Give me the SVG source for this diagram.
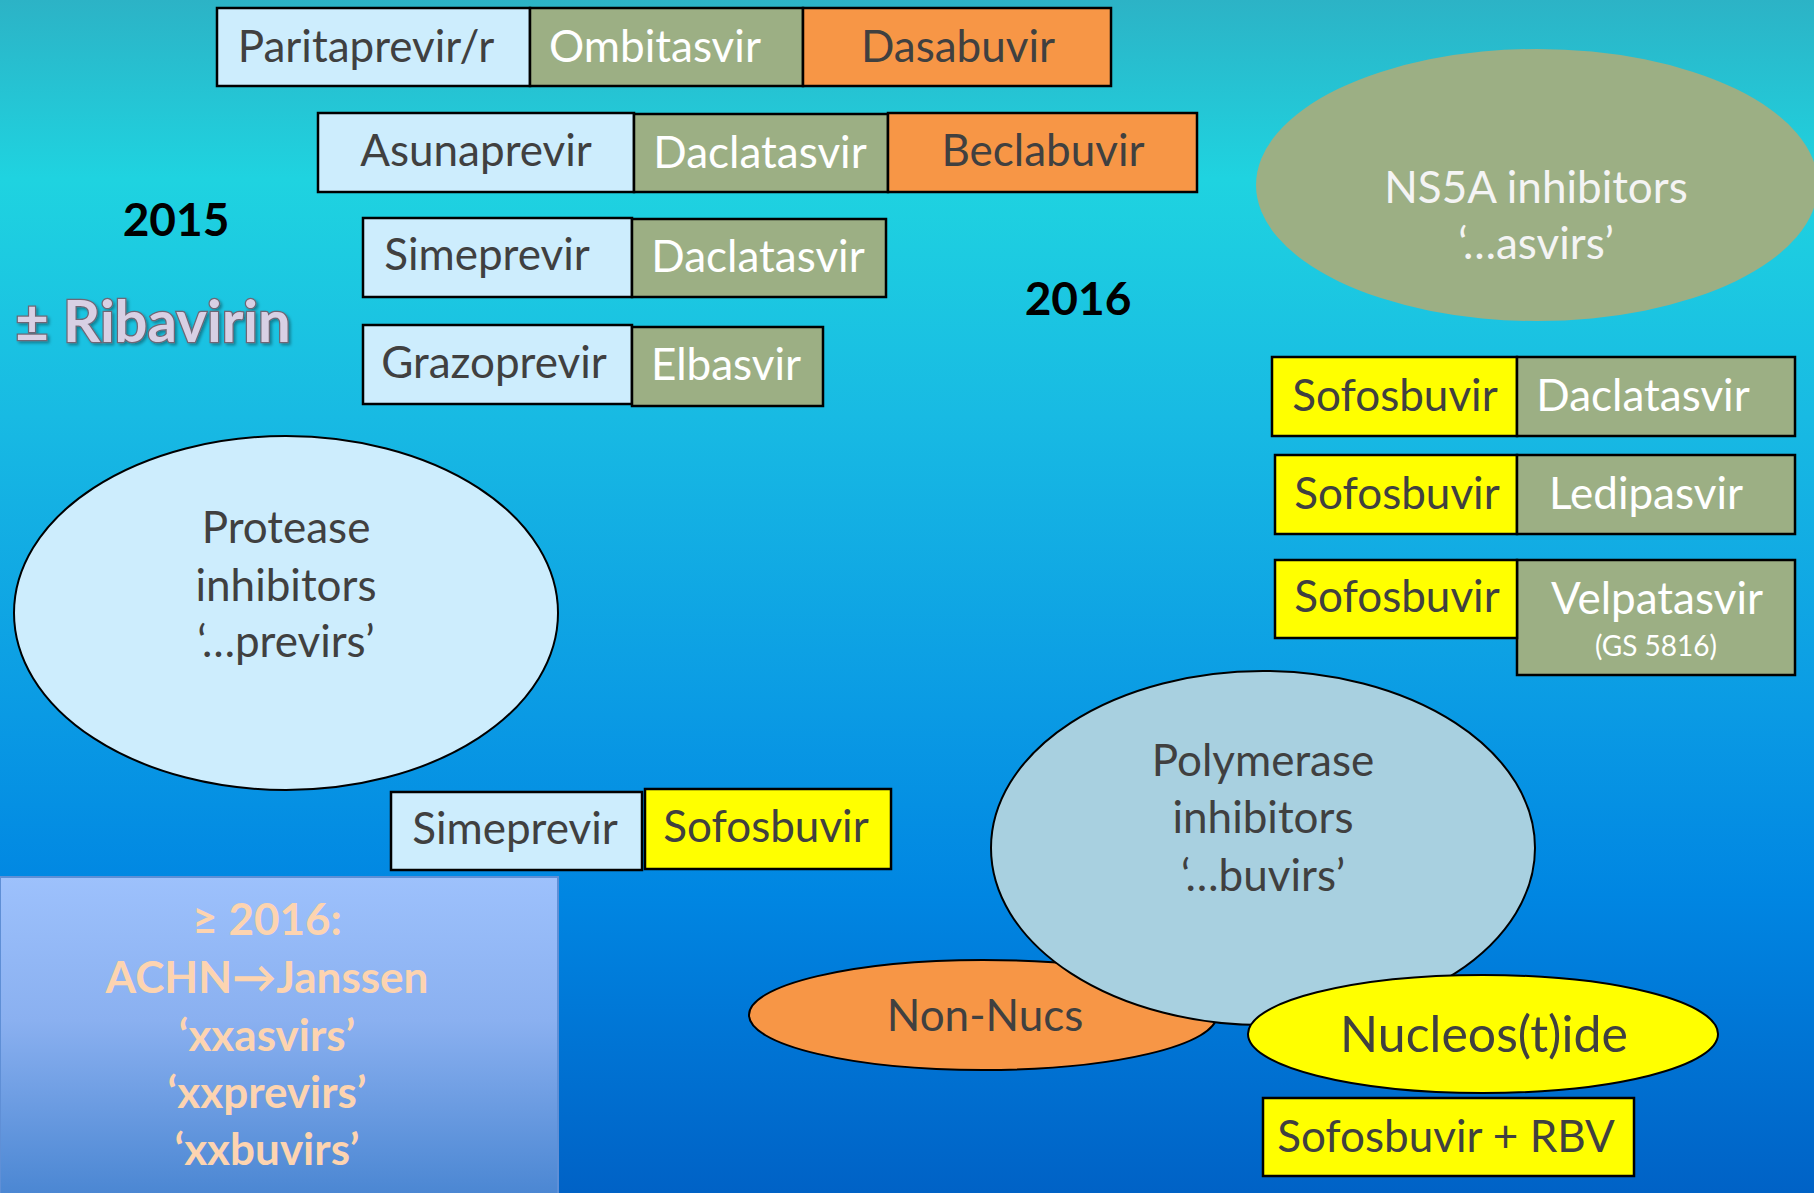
<svg xmlns="http://www.w3.org/2000/svg" width="1814" height="1193" viewBox="0 0 1814 1193">
<defs>
<linearGradient id="bg" x1="0" y1="0" x2="0" y2="1">
<stop offset="0" stop-color="#2cb3c6"/>
<stop offset="0.15" stop-color="#1fd3e0"/>
<stop offset="0.35" stop-color="#18bae3"/>
<stop offset="0.6" stop-color="#0a9ae4"/>
<stop offset="0.75" stop-color="#0086e2"/>
<stop offset="1" stop-color="#0062c6"/>
</linearGradient>
<linearGradient id="note" x1="0" y1="0" x2="0" y2="1">
<stop offset="0" stop-color="#9dc1fc"/>
<stop offset="0.45" stop-color="#8ab0f0"/>
<stop offset="1" stop-color="#4a86d2"/>
</linearGradient>
<filter id="sh" x="-5%" y="-10%" width="115%" height="130%">
<feDropShadow dx="2" dy="2" stdDeviation="1.5" flood-color="#000" flood-opacity="0.35"/>
</filter>
</defs>
<style>
text{font-family:Lato,"Liberation Sans",sans-serif;font-size:44px;text-anchor:middle}
.b{stroke:#000;stroke-width:2.5}
.pi{fill:#cdedfd}
.ns{fill:#9caf84}
.or{fill:#f79646}
.ye{fill:#ffff00}
.dk{fill:#404040}
.wh{fill:#ffffff}
.yr{font-weight:bold;fill:#000;font-size:46px}
</style>
<rect width="1814" height="1193" fill="url(#bg)"/>

<g id="year2015"><text class="yr" x="176" y="236">2015</text></g>
<g id="year2016"><text class="yr" x="1078" y="315">2016</text></g>
<g id="ribavirin"><text x="153" y="342" style="font-size:58px;font-weight:bold;fill:#d8d0e4;stroke:#6e6674;stroke-width:2.5;paint-order:stroke" filter="url(#sh)">± Ribavirin</text></g>

<g id="row1">
<rect class="b pi" x="217" y="8" width="313" height="78"/>
<rect class="b ns" x="530" y="8" width="273" height="78"/>
<rect class="b or" x="803" y="8" width="308" height="78"/>
<text class="dk" x="366" y="62">Paritaprevir/r</text>
<text class="wh" x="655" y="62">Ombitasvir</text>
<text class="dk" x="958" y="62">Dasabuvir</text>
</g>
<g id="row2">
<rect class="b pi" x="318" y="113" width="316" height="79"/>
<rect class="b ns" x="634" y="114" width="254" height="78"/>
<rect class="b or" x="888" y="113" width="309" height="79"/>
<text class="dk" x="476" y="166">Asunaprevir</text>
<text class="wh" x="760" y="168">Daclatasvir</text>
<text class="dk" x="1043" y="166">Beclabuvir</text>
</g>
<g id="row3">
<rect class="b pi" x="363" y="218" width="269" height="79"/>
<rect class="b ns" x="632" y="219" width="254" height="78"/>
<text class="dk" x="487" y="270">Simeprevir</text>
<text class="wh" x="758" y="272">Daclatasvir</text>
</g>
<g id="row4">
<rect class="b pi" x="363" y="325" width="269" height="79"/>
<rect class="b ns" x="632" y="327" width="191" height="79"/>
<text class="dk" x="494" y="378">Grazoprevir</text>
<text class="wh" x="726" y="380">Elbasvir</text>
</g>

<g id="ns5a">
<ellipse cx="1537" cy="185" rx="281" ry="136" fill="#9caf84"/>
<text class="wh" x="1536" y="203" style="fill:#f4f4f4">NS5A inhibitors</text>
<text class="wh" x="1536" y="259" style="fill:#f4f4f4">‘…asvirs’</text>
</g>

<g id="sof-dac">
<rect class="b ye" x="1272" y="357" width="245" height="79"/>
<rect class="b ns" x="1517" y="357" width="278" height="79"/>
<text class="dk" x="1395" y="411">Sofosbuvir</text>
<text class="wh" x="1643" y="411">Daclatasvir</text>
</g>
<g id="sof-led">
<rect class="b ye" x="1275" y="455" width="242" height="79"/>
<rect class="b ns" x="1517" y="455" width="278" height="79"/>
<text class="dk" x="1397" y="509">Sofosbuvir</text>
<text class="wh" x="1646" y="509">Ledipasvir</text>
</g>
<g id="sof-vel">
<rect class="b ns" x="1517" y="560" width="278" height="115"/>
<rect class="b ye" x="1275" y="560" width="242" height="78"/>
<text class="dk" x="1397" y="612">Sofosbuvir</text>
<text class="wh" x="1657" y="614">Velpatasvir</text>
<text class="wh" x="1656" y="656" style="font-size:28px">(GS 5816)</text>
</g>

<g id="protease">
<ellipse cx="286" cy="613" rx="272" ry="177" fill="#cdedfd" stroke="#000" stroke-width="2"/>
<text class="dk" x="286" y="543">Protease</text>
<text class="dk" x="286" y="601">inhibitors</text>
<text class="dk" x="286" y="657">‘…previrs’</text>
</g>

<g id="sim-sof">
<rect class="b pi" x="391" y="792" width="251" height="78"/>
<rect class="b ye" x="645" y="789" width="246" height="80"/>
<text class="dk" x="515" y="844">Simeprevir</text>
<text class="dk" x="766" y="842">Sofosbuvir</text>
</g>

<g id="note2016">
<rect x="0" y="877" width="558" height="320" fill="url(#note)" stroke="#5f8fd6" stroke-width="2"/>
<g style="font-weight:bold;fill:#fdd4b0;font-size:44px">
<text x="267" y="935">≥ 2016:</text>
<text x="267" y="993">ACHN→Janssen</text>
<text x="267" y="1051">‘xxasvirs’</text>
<text x="267" y="1108">‘xxprevirs’</text>
<text x="267" y="1165">‘xxbuvirs’</text>
</g>
</g>

<g id="nonnucs">
<ellipse cx="983" cy="1015" rx="234" ry="55" fill="#f79646" stroke="#000" stroke-width="2"/>
<text class="dk" x="985" y="1031">Non-Nucs</text>
</g>
<g id="polymerase">
<ellipse cx="1263" cy="848" rx="272" ry="177" fill="#a8d0e0" stroke="#000" stroke-width="2"/>
<text class="dk" x="1263" y="776">Polymerase</text>
<text class="dk" x="1263" y="833">inhibitors</text>
<text class="dk" x="1263" y="891">‘…buvirs’</text>
</g>
<g id="nucleoside">
<ellipse cx="1483" cy="1034" rx="235" ry="59" fill="#ffff00" stroke="#000" stroke-width="2"/>
<text class="dk" x="1484" y="1052" style="font-size:50px">Nucleos(t)ide</text>
</g>
<g id="sof-rbv">
<rect class="b ye" x="1263" y="1098" width="371" height="78"/>
<text class="dk" x="1446" y="1152">Sofosbuvir + RBV</text>
</g>
<g id="connectors"/>
</svg>
